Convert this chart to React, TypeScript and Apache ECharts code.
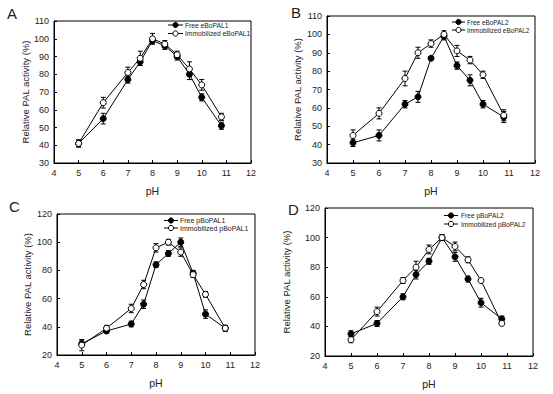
import React, { useEffect, useRef } from "react";
import * as echarts from "echarts";

const pH = [5, 6, 7, 7.5, 8, 8.5, 9, 9.5, 10, 10.8];

const freeE1 = [41, 55, 77, 87, 99, 96, 90, 80, 67, 51];
const freeE1Err = [2, 3, 2, 2, 2, 2, 2, 3, 2, 2];
const immE1 = [41, 64, 81, 89, 100, 97, 91, 83, 74, 56];
const immE1Err = [2, 3, 3, 4, 3, 2, 2, 4, 3, 2];

const freeE2 = [41, 45, 62, 66, 87, 99, 83, 75, 62, 55];
const freeE2Err = [2, 3, 2, 3, 1, 2, 2, 3, 2, 3];
const immE2 = [45, 57, 76, 90, 95, 100, 91, 86, 78, 56];
const immE2Err = [3, 3, 4, 3, 2, 2, 3, 2, 2, 3];

const freeP1 = [28, 37, 42, 56, 84, 92, 100, 78, 49, 39];
const freeP1Err = [2, 1, 2, 3, 2, 2, 3, 2, 3, 2];
const immP1 = [27, 39, 53, 70, 96, 100, 93, 77, 63, 39];
const immP1Err = [4, 2, 3, 3, 3, 2, 3, 2, 2, 2];

const freeP2 = [35, 42, 60, 75, 84, 100, 87, 72, 56, 45];
const freeP2Err = [2, 2, 2, 3, 2, 2, 3, 2, 3, 2];
const immP2 = [31, 50, 71, 80, 92, 100, 94, 85, 71, 42];
const immP2Err = [2, 3, 2, 4, 3, 2, 3, 2, 1, 1];

const panelLetters = ["A", "B", "C", "D"];
const freeNames = ["Free eBoPAL1", "Free eBoPAL2", "Free pBoPAL1", "Free pBoPAL2"];
const immNames = [
  "Immobilized eBoPAL1",
  "Immobilized eBoPAL2",
  "Immobilized pBoPAL1",
  "Immobilized pBoPAL2",
];
const yMins = [30, 30, 20, 20];
const yMaxs = [110, 110, 120, 120];
const yIntervals = [10, 10, 20, 20];

const FONT = "Liberation Sans, Arial, sans-serif";
const TXT = "#222";

export default function App() {
  const ref = useRef<HTMLDivElement>(null);
  useEffect(() => {
    document.body.style.margin = "0";
    const chart = echarts.init(ref.current!, null, { renderer: "svg" });

    const free = [freeE1, freeE2, freeP1, freeP2];
    const freeErr = [freeE1Err, freeE2Err, freeP1Err, freeP2Err];
    const imm = [immE1, immE2, immP1, immP2];
    const immErr = [immE1Err, immE2Err, immP1Err, immP2Err];

    const grids = [
      { left: 54, top: 21, width: 197, height: 142 },
      { left: 327, top: 16, width: 208, height: 147 },
      { left: 57, top: 214, width: 198, height: 141 },
      { left: 325, top: 208, width: 208, height: 148 },
    ];
    const yNameGaps = [24, 25, 25, 34];
    // legend layout: line x0, x1, text x, row1 y, row2 y, font size
    const legendPos = [
      { x0: 168, x1: 183, tx: 185, y1: 25, y2: 33.5, fs: 6.7 },
      { x0: 452, x1: 465, tx: 467, y1: 22, y2: 30, fs: 6.4 },
      { x0: 164, x1: 178, tx: 180, y1: 220.5, y2: 228, fs: 7 },
      { x0: 444, x1: 458, tx: 461, y1: 215.5, y2: 224, fs: 6.6 },
    ];
    const letterPos = [
      [7, 6],
      [291, 5],
      [9, 199],
      [288, 202],
    ];

    const errRender = (params: any, api: any) => {
      const x = api.value(0);
      const lo = api.value(1);
      const hi = api.value(2);
      const p1 = api.coord([x, hi]);
      const p2 = api.coord([x, lo]);
      const w = 2.5;
      const st = { stroke: "#000", lineWidth: 1 };
      return {
        type: "group",
        children: [
          { type: "line", shape: { x1: p1[0], y1: p1[1], x2: p2[0], y2: p2[1] }, style: st },
          { type: "line", shape: { x1: p1[0] - w, y1: p1[1], x2: p1[0] + w, y2: p1[1] }, style: st },
          { type: "line", shape: { x1: p2[0] - w, y1: p2[1], x2: p2[0] + w, y2: p2[1] }, style: st },
        ],
      };
    };

    const xAxis: any[] = [];
    const yAxis: any[] = [];
    const series: any[] = [];
    const graphic: any[] = [];

    for (let i = 0; i < 4; i++) {
      xAxis.push({
        type: "value",
        gridIndex: i,
        min: 4,
        max: 12,
        interval: 1,
        name: "pH",
        nameLocation: "middle",
        nameGap: 22,
        nameTextStyle: { fontFamily: FONT, fontSize: 10.5, color: TXT },
        axisLine: { lineStyle: { color: "#000", width: 1 } },
        axisTick: { inside: true, length: 3, lineStyle: { color: "#000" } },
        axisLabel: { fontFamily: FONT, fontSize: 9, color: TXT, margin: 5 },
        splitLine: { show: false },
      });
      yAxis.push({
        type: "value",
        gridIndex: i,
        min: yMins[i],
        max: yMaxs[i],
        interval: yIntervals[i],
        name: "Relative PAL activity (%)",
        nameLocation: "middle",
        nameGap: yNameGaps[i],
        nameTextStyle: { fontFamily: FONT, fontSize: 9.5, color: TXT },
        axisLine: { lineStyle: { color: "#000", width: 1 } },
        axisTick: { inside: true, length: 3, lineStyle: { color: "#000" } },
        axisLabel: { fontFamily: FONT, fontSize: 9, color: TXT, margin: 5 },
        splitLine: { show: false },
      });

      const mkErr = (vals: number[], errs: number[]) =>
        pH.map((x, k) => [x, vals[k] - errs[k], vals[k] + errs[k]]);

      series.push({
        type: "custom",
        xAxisIndex: i,
        yAxisIndex: i,
        renderItem: errRender,
        encode: { x: 0, y: [1, 2] },
        data: mkErr(free[i], freeErr[i]),
        silent: true,
        z: 1,
      });
      series.push({
        type: "custom",
        xAxisIndex: i,
        yAxisIndex: i,
        renderItem: errRender,
        encode: { x: 0, y: [1, 2] },
        data: mkErr(imm[i], immErr[i]),
        silent: true,
        z: 1,
      });
      series.push({
        type: "line",
        name: freeNames[i],
        xAxisIndex: i,
        yAxisIndex: i,
        data: pH.map((x, k) => [x, free[i][k]]),
        symbol: "circle",
        symbolSize: 6,
        lineStyle: { color: "#000", width: 1 },
        itemStyle: { color: "#000", borderColor: "#000", borderWidth: 1 },
        z: 2,
      });
      series.push({
        type: "line",
        name: immNames[i],
        xAxisIndex: i,
        yAxisIndex: i,
        data: pH.map((x, k) => [x, imm[i][k]]),
        symbol: "circle",
        symbolSize: 6,
        lineStyle: { color: "#000", width: 1 },
        itemStyle: { color: "#fff", borderColor: "#000", borderWidth: 1 },
        z: 3,
      });

      const lp = legendPos[i];
      const cx = (lp.x0 + lp.x1) / 2;
      const rows = [
        { y: lp.y1, name: freeNames[i], fill: "#000" },
        { y: lp.y2, name: immNames[i], fill: "#fff" },
      ];
      rows.forEach((r) => {
        graphic.push({
          type: "line",
          shape: { x1: lp.x0, y1: r.y, x2: lp.x1, y2: r.y },
          style: { stroke: "#000", lineWidth: 1 },
          z: 10,
        });
        graphic.push({
          type: "circle",
          shape: { cx, cy: r.y, r: 2.6 },
          style: { fill: r.fill, stroke: "#000", lineWidth: 1 },
          z: 11,
        });
        graphic.push({
          type: "text",
          x: lp.tx,
          y: r.y,
          style: {
            text: r.name,
            fontFamily: FONT,
            fontSize: lp.fs,
            fill: TXT,
            verticalAlign: "middle",
            align: "left",
          },
          z: 11,
        });
      });

      graphic.push({
        type: "text",
        left: letterPos[i][0],
        top: letterPos[i][1],
        style: { text: panelLetters[i], fontFamily: FONT, fontSize: 15, fill: TXT },
      });
    }

    chart.setOption({
      animation: false,
      backgroundColor: "#fff",
      grid: grids.map((g) => ({ ...g, show: true, borderColor: "#000", borderWidth: 1 })),
      xAxis,
      yAxis,
      series,
      graphic,
    });
    return () => chart.dispose();
  }, []);
  return <div ref={ref} style={{ width: 553, height: 394 }} />;
}
